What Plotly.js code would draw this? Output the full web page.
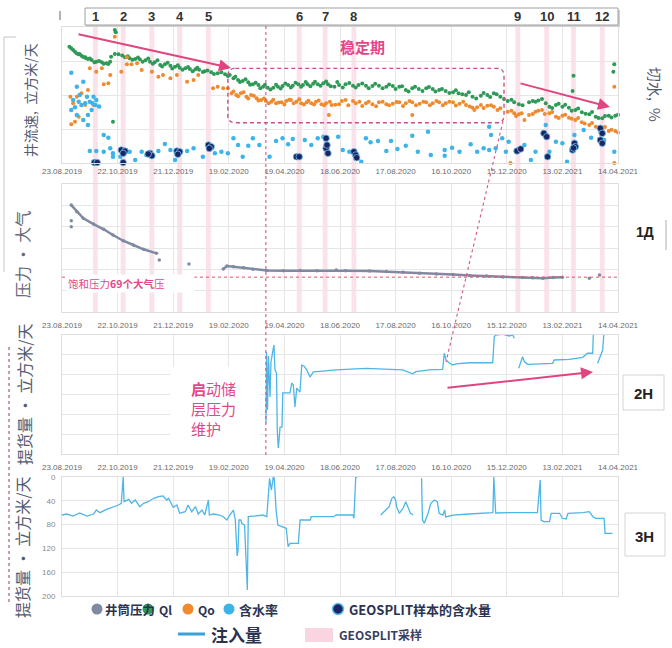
<!DOCTYPE html>
<html><head><meta charset="utf-8">
<script src="https://cdn.plot.ly/plotly-3.0.1.min.js"></script>
<style>html,body{margin:0;padding:0;background:#fff}#chart{width:672px;height:648px}</style>
</head><body><div id="chart"></div>
<script>
// ---------- DATA ----------
const tickDays = [0,60,120,180,240,300,360,420,480,540,600];
const tickLabels = ['23.08.2019','22.10.2019','21.12.2019','19.02.2020','19.04.2020','18.06.2020','17.08.2020','16.10.2020','15.12.2020','13.02.2021','14.04.2021'];
const sampleDays = [36,66,97,127,158,256,284,315,492,523,552,583];
const sampleNums = ['1','2','3','4','5','6','7','8','9','10','11','12'];
const startDay = 220;
const satPressure = 69;

// panel 1: Ql (green), Qo (orange), water cut (light blue), GEOSPLIT water cut (navy)  [day, value]
const qlPts = [
[8,85.5],[10,84.3],[12,83],[14,81.8],[16,80.5],[18,79.9],[19,80.2],[21,78.9],[23,78],[25,77.7],[26,77],[28,76.5],[30,76.8],[32,75.7],[35,74],[37,74.5],[40,75],[43,74.0],[45,73],[48,73.3],[50,72.8],[52,74.5],[53,78.2],[57,80.1],[61,79.9],
[57,97.8],[58,96.1],[55,30.4],
[65,79],[68,77.7],[71,78.5],[73,77.0],[76,76],[79,76.5],[82,77.5],[84,76.3],[87,74.5],[90,75.5],[93,76.8],[95,74.5],[98,73],[100,74.0],[103,75.5],[106,72.1],[108,71],[111,72.6],[114,73.8],[117,71.5],[119,69.5],[122,70.8],[125,71.8],[127,70.1],[130,68.5],[133,69.6],[136,70.5],[138,69.1],[141,67.5],[144,68.9],[146,70],[148,68.6],[152,67],[154,67.5],[157,68],[161,66.7],[164,65.5],[168,66.0],[172,66.8],[176,65.2],[179,64],[181,64.7],
[185,62.3],[187,63.5],[190,61.0],[192,59.5],[195,60.3],[198,61.5],[201,59.3],[203,57.5],[206,57.9],[209,59],[212,57.4],[214,55],[217,56.1],[219,57.5],[222,55.4],[225,54],[228,55.4],[231,57.5],[233,56.1],[236,54.8],[238,56.6],[241,58.5],[244,57.4],[247,55.5],[249,56.8],[252,59],[255,57.9],[258,56],[260,57.4],[263,59.5],[265,57.9],[268,56.5],[271,58.3],[273,59.8],[276,57.9],[279,56.8],[282,58.6],[285,60],[287,57.9],[290,56.5],[294,56.1],[297,59.5],[299,57.4],[303,55.5],[306,57.9],[310,58.8],[314,56.8],[317,55.5],[320,57.4],[324,58.5],[328,56.8],[331,55],[335,56.6],[338,58.2],[342,56.8],[346,55],[350,56.1],[353,57.8],[357,56.6],[360,54.5],[364,56.1],[367,56.5],[371,53.7],[374,52.5],[378,54.9],[381,56],[385,54.4],[389,53],[393,54.9],[396,55.8],[400,54.4],[403,52.5],[407,53.7],[410,54.5],[414,52.9],[418,51.5],[422,52.0],[425,53.5],[428,51.3],[432,50.5],[436,50.0],[439,52],[443,48.8],[447,47.5],[452,49.5],[455,51.5],[459,50.0],[462,48.5],[466,51.3],[469,50.5],[473,48.8],[477,47],
[481,45.6],[485,46.5],[488,44.6],[493,43.2],[497,42.5],[504,44.6],[508,45.5],[511,45.1],[514,46],[518,47.1],[522,44],[526,41.4],[529,40.5],[533,42.6],[536,43.5],[540,41.4],[543,42.8],[547,40.7],[550,38.5],[554,39.0],[557,40],[561,37.3],[565,36.2],[569,35.8],[572,37.5],[576,34.0],[579,33],[583,32.9],[586,34.5],[590,34.8],[593,33.5],[597,34.8],[600,35.5],
[552,64.2],[551,52.9],[596,72.6],[595,67.1]
];
const qoPts = [
[10,28.5],[9,48.8],[12,43.9],[16,48.8],[18,34.0],[14,30.4],[21,51.3],[25,42.6],[28,53.7],[30,69.6],[34,42.6],[37,67.1],[43,69.6],[45,57.9],[50,58.6],[52,64.7],[57,92.9],[64,67.1],
[70,77.7],[70,72.6],[75,72.6],[81,73.3],[86,68.4],[97,67.1],[104,63.5],[109,64.7],[117,62.3],[124,64.7],[135,59.8],[142,61.0],[147,64.7],
[163,54.9],[168,56.1],[174,54.9],[179,54.9],[183,51.3],[185,52.5],[188,50.0],[190,49],[193,51.3],[196,52],[199,48.8],[201,47.5],[204,50.0],[207,49.5],[210,47.6],[212,46],[215,46.3],[218,47.5],[220,45.6],[223,44],[226,45.1],[228,46.5],[231,43.9],[234,44.5],[237,44.6],[240,43],[242,45.6],[245,46.5],[247,46.3],[250,44],[253,45.1],[256,46.8],[258,43.9],[261,43],[264,44.6],[266,45.8],[269,43.9],[272,43],[274,45.1],[277,46],[280,43.2],[283,42.5],[285,43.9],[289,45],[291,42.6],[288,35.3],[295,42.8],[299,43.2],[302,45.5],[306,46.3],[309,42.5],[314,45.6],[317,44],[321,45.1],[324,42],[328,43.9],[331,45],[335,43.2],[339,41.8],[342,44.6],[346,45],[350,43.2],[353,42.5],[357,43.6],[361,44.8],[364,44.6],[368,42],[371,43.9],[375,45.5],[378,44.6],[382,42.5],[386,43.6],[390,45],[393,44.6],[397,42.5],[400,43.9],[404,45.5],[407,44.6],[411,42.5],[414,43.9],[418,45],[422,44.6],[425,42.2],[429,43.6],[433,45],[436,42.6],[440,41.5],[443,40.7],[445,39.0],[448,41],[452,42.6],[455,40.5],[459,42.1],[463,42.5],[466,41.4],[470,39],[473,40.2],[378,35.3],
[481,37.7],[485,38.5],[488,36.5],[490,34.5],[493,35.8],[496,36.5],[499,31.6],[504,35.3],[508,36],[511,37.7],[514,38.5],[518,39.0],[521,36],[526,36.5],[529,37.5],[533,34.0],[536,33],[540,34.8],[543,35.5],[547,33.3],[550,32.5],[554,31.6],[557,33],[561,29.9],[564,29],[569,27.9],[572,29.5],[576,26.7],[579,26],[583,25.5],[586,26.5],[590,23.5],[593,24.5],[597,23.5],[600,22.5],
[596,56.1],[484,0],[596,0]
];
const wcPts = [
[10,66.4],[23,59.8],[16,56.1],[12,46.3],[18,45.1],[21,42.6],[10,39.0],[16,35.3],[19,50.0],[27,48.8],[30,45.1],[34,48.8],[36,42.6],[37,46.3],[32,39.0],[28,35.3],[23,31.6],[28,27.9],[14,41],[25,44],[33,44],[40,41.5],
[45,20.6],[50,18.6],[30,8.8],[37,8.8],[45,8.3],[52,10.8],[55,7.1],[55,4.6],[63,4.6],[73,8.3],[79,2.2],[86,8.3],[91,5.9],[104,8.8],[111,14.0],[117,9.6],[122,2.2],[135,8.8],[142,10.8],
[152,4.6],[165,7.1],[172,8.3],[179,7.1],[185,18.2],[190,13.2],[195,4.6],[201,12.7],[206,18.2],[213,13.2],[224,4.6],[231,16.2],[238,18.2],[244,13.8],[249,17.6],[262,16.9],[269,13.2],[276,18.2],[282,19.3],
[298,19.3],[303,9.6],[310,8.3],[323,1.0],[328,18.2],[333,15.2],[341,16.2],[350,8.8],[355,16.2],[362,10.3],[371,12.7],[378,20.1],[384,8.3],[395,23.0],[398,5.9],[413,9.6],[413,5.4],[421,11.3],[429,8.3],[441,13.8],
[448,8.3],[455,10.8],[461,26.7],[463,20.6],[461,9.6],[468,10.8],[475,18.2],[479,8.3],[482,15.7],[499,13.2],[506,2.2],[511,8.3],[522,27.9],[526,8.3],[533,15.7],[540,14.5],[545,1.0],[553,20.6],[563,24.3],[571,18.6],[581,23.0],[585,16.9],[596,8.3]
];
const gsPts = [
[35,0.3],[38,0.3],[64,9.6],[68,8.8],[66,7.1],[66,0.3],[95,7.1],[97,5.4],[93,6.6],[124,8.8],[127,8.3],[125,6.4],[158,13.2],[161,12.0],[159,10.7],
[253,4.6],[256,4.6],[285,18.2],[285,10.8],[287,7.1],[286,13.2],[315,8.3],[317,5.9],[318,3.9],
[491,8.8],[495,10.3],[520,21.8],[523,19.3],[524,4.6],[553,14.5],[554,12.0],[551,9.6],[552,11.0],[581,25.5],[583,21.8],[581,16.9],[583,14.5]
];
// panel 2: wellbore pressure, atm  [day, value]; nulls separate pieces
const presPts = [
[10,170.4],[16,161],[23,151.7],[34,143.7],[45,136.3],[55,128.3],[66,120.2],[77,114.2],[88,108.2],[102,102.5],[null,null],
[10,148.4],[null,null],[10,139.9],[null,null],[105,93.1],[null,null],[137,87.5],[null,null],
[174,80.5],[178,84.7],[185,83.7],[196,82.3],[206,80],[221,78.5],[239,78.1],[257,78.3],[275,78.1],[296,79],[306,78.1],[332,77.6],[350,76.8],[368,75.8],[386,74.6],[404,73.4],[422,72.6],[440,71.5],[458,70.5],[476,69.2],[497,68.4],[508,68.2],[519,67.3],[530,68.6],[540,68.8],[null,null],
[569,67.5],[null,null],[580,72]
];
// panel 3: injection 2H  [day, value]
const inj2Pts = [
[220.1,78],[220.7,257],[221.8,111],[222.8,247],[224.5,144],[225.5,232],[227.7,262],[228.7,275],[229.8,212],[231.5,204],[232.3,60.5],[233.4,15],[234.2,35],[235.3,68],[237.4,68],[238.2,154],[242.8,154],[246,154],[247.9,179],[249.6,174],[251.4,118.5],[253.3,166],[256.8,156],[258.7,224],[261.1,222],[264.1,212],[267.6,194],[271.2,207],[281.6,209],[295.7,212],
[328,216],[367.6,212],[378.4,202],[382,207.5],[396.4,212],[410.8,213.5],[412.5,254],[414.4,237],[417.6,230],[421.6,224],[425.2,227],[439.5,230],[454,230],[464.8,230],[466.5,296],[468.3,300],[475.6,302],[482.7,297.5],[486.4,300],[488.1,292],[null,null],
[492.8,216],[494.2,224],[497.1,245],[498.9,233],[502.5,226],[529.5,228.6],[531.2,237],[547.4,238.7],[561.9,243.8],[567.3,254],[572.7,254],[573.3,300],[null,null],
[578,228.6],[579.8,238.7],[583.5,262],[584.5,296],[585.4,312]
];
// panel 4: injection 3H  [day, value]
const inj3Pts = [
[0,63.9],[5,62.2],[12,65.6],[19,60.5],[27,65.6],[34,62.2],[37,55.5],[41,60],[48,54.3],[55,50.9],[61,47.1],[64,44.2],[66,0],[67,41.5],[72,37.5],[75,44.2],[79,38.7],[84,49.9],[88,44.2],[93,41.5],[99,35.8],[104,33.1],[109,31.9],[113,38.7],[115,35.8],[120,50.9],[124,47.1],[127,61],[133,58.3],[136,47.1],[140,58.3],[144,49.9],[147,62.2],[151,55.5],[154,63.9],[158,38.7],[159,63.9],[163,62.2],[170,63.9],[174,66.7],[178,72.3],[181,63.9],[185,55.5],[187,72.3],[189,132.8],[190,122.7],[191,72.3],[193,72.3],[194,77.8],[197,80.7],[200,190],[201,66.7],[206,65.6],[217,63.9],[221,66.7],[223,10.6],[224,2.2],[226,21.9],[228,0],[229,1.7],[231,55.5],[233,80.7],[239,83.5],[242,86.2],[244,117.2],[246,111.5],[255,111.5],[257,72.3],[268,72.3],[269,66.7],[293,66.7],[296,63.9],[314,63.9],[315,69.4],[317,0],[319,0],[null,null],
[344,63.9],[346,61],[350,55.5],[353,49.9],[356,35.8],[358,33.1],[360,38.7],[361,49.9],[364,61],[368,52.6],[371,41.5],[373,49.9],[376,61],[379,63.9],[null,null],
[388,2.2],[389,72.3],[391,77.8],[395,61],[398,44.2],[402,38.7],[405,41.5],[407,61],[411,63.9],[413,55.5],[414,67.2],[422,63.9],[439,62.2],[458,61],[465,60],[466,0],[468,60.5],[483,60],[497,60],[513,60],[516,5],[517,72.3],[520,75.1],[526,75.1],[528,61],[537,61],[540,69.4],[544,70.6],[546,61],[562,60],[569,58.3],[573,66.7],[576,69.4],[583,69.4],[585,69.4],[586,94.6],[594,94.6]
];
const legendNames = ['井筒压力','Ql','Qo','含水率','GEOSPLIT样本的含水量'];
const lineLegendName = '注入量';
const bandLegendName = 'GEOSPLIT采样';
const noteLines = ['<b>启</b>动储','层压力','维护'];

// ---------- STYLE ----------
const C = {green:'#2f9a58', orange:'#ef8a2f', wc:'#3cb4ea', navy:'#1b2566', pres:'#7f8aa2', inj:'#4db6e6', pink:'#e3468a', grid:'#e6e6e6'};
const CJK = 'Noto Sans CJK SC, sans-serif';
const px = x => (x - 62) / 556;
const py = y => 1 - y / 648;
const xs = a => a.map(p => p[0]);
const ys = a => a.map(p => p[1]);

const traces = [
 {x:xs(qlPts), y:ys(qlPts), xaxis:'x', yaxis:'y', mode:'markers', name:'Ql', marker:{size:4, color:C.green}, cliponaxis:false},
 {x:xs(qoPts), y:ys(qoPts), xaxis:'x', yaxis:'y', mode:'markers', name:'Qo', marker:{size:4, color:C.orange}, cliponaxis:false},
 {x:xs(wcPts), y:ys(wcPts), xaxis:'x', yaxis:'y', mode:'markers', name:'含水率', marker:{size:4.5, color:C.wc}, cliponaxis:false},
 {x:xs(gsPts), y:ys(gsPts), xaxis:'x', yaxis:'y', mode:'markers', name:'GEOSPLIT', marker:{size:6.5, color:C.navy, line:{color:'#6fc4ee', width:0.8}}, cliponaxis:false},
 {x:xs(presPts), y:ys(presPts), xaxis:'x2', yaxis:'y2', mode:'lines+markers', name:'井筒压力', line:{color:C.pres, width:2.5}, marker:{size:3.5, color:C.pres}, connectgaps:false},
 {x:xs(inj2Pts), y:ys(inj2Pts), xaxis:'x3', yaxis:'y3', mode:'lines', name:'注入量 2H', line:{color:C.inj, width:1.3}, connectgaps:false},
 {x:xs(inj3Pts), y:ys(inj3Pts), xaxis:'x4', yaxis:'y4', mode:'lines', name:'注入量 3H', line:{color:C.inj, width:1.3}, connectgaps:false}
];

function xax(anchor, labels, tl){
 return {anchor:anchor, range:[0,600], tickvals:tickDays, ticktext:tickLabels, showticklabels:labels,
  showgrid:true, gridcolor:C.grid, zeroline:false, showline:true, linecolor:'#dedede', mirror:true,
  ticks:'outside', ticklen:tl, tickcolor:'rgba(0,0,0,0)', tickangle:0,
  tickfont:{size:8, color:'#6b6b6b', family:'Liberation Sans Narrow, Liberation Sans, Arial'}};
}
function yax(anchor, dom, range, tick0, dtick, labels){
 return {anchor:anchor, domain:dom, range:range, tick0:tick0, dtick:dtick, showticklabels:labels,
  showgrid:true, gridcolor:C.grid, zeroline:false, showline:true, linecolor:'#dedede', mirror:true,
  ticks:labels?'outside':'', ticklen:4, tickcolor:'rgba(0,0,0,0)', tickfont:{size:8, color:'#8a8a8a', family:'Liberation Sans'}};
}

const shapes = [];
sampleDays.forEach(d => shapes.push({type:'rect', xref:'x', yref:'paper', x0:d-2.6, x1:d+2.6, y0:py(312), y1:py(27), fillcolor:'rgba(246,188,206,0.45)', line:{width:0}, layer:'below'}));
// numbered box
shapes.push({type:'rect', xref:'paper', yref:'paper', x0:px(86), x1:px(620), y0:py(27), y1:py(10), fillcolor:'#d0d0d0', line:{width:0}});
shapes.push({type:'rect', xref:'paper', yref:'paper', x0:px(85), x1:px(618), y0:py(25), y1:py(8), fillcolor:'#ffffff', line:{color:'#a0a0a0', width:1}});
shapes.push({type:'line', xref:'paper', yref:'paper', x0:px(60), x1:px(60), y0:py(20), y1:py(11), line:{color:'#999', width:1.5}});
// start of reservoir pressure maintenance
shapes.push({type:'line', xref:'x', yref:'paper', x0:startDay, x1:startDay, y0:py(455), y1:py(25), line:{color:'#d0558a', width:1.1, dash:'3px,3px'}});
// stable period box (rounded)
(function(){
 const x0=179, x1=477, y0=29.6, y1=69.6, rx=8, ry=5.5;
 const p = `M ${x0+rx},${y1} L ${x1-rx},${y1} Q ${x1},${y1} ${x1},${y1-ry} L ${x1},${y0+ry} Q ${x1},${y0} ${x1-rx},${y0} L ${x0+rx},${y0} Q ${x0},${y0} ${x0},${y0+ry} L ${x0},${y1-ry} Q ${x0},${y1} ${x0+rx},${y1} Z`;
 shapes.push({type:'path', xref:'x', yref:'y', path:p, line:{color:'#c8508a', width:1.4, dash:'4px,3px'}});
})();
shapes.push({type:'line', xref:'paper', yref:'paper', x0:px(503), y0:py(121), x1:px(446), y1:py(362), line:{color:'#d0558a', width:1.1, dash:'3px,3px'}});
// saturation pressure
shapes.push({type:'line', xref:'paper', yref:'y2', x0:0, x1:1, y0:satPressure, y1:satPressure, line:{color:'#e2506a', width:1, dash:'dot'}});
// white box for note
shapes.push({type:'rect', xref:'paper', yref:'paper', x0:px(170), x1:px(260), y0:py(454), y1:py(367), fillcolor:'#fff', line:{width:0}, layer:'above'});
// right-side labels frames
shapes.push({type:'line', xref:'paper', yref:'paper', x0:px(666), x1:px(666), y0:py(250), y1:py(220), line:{color:'#c8c8c8', width:1.5}});
shapes.push({type:'rect', xref:'paper', yref:'paper', x0:px(623), x1:px(664), y0:py(410), y1:py(375), fillcolor:'#fff', line:{color:'#d4d4d4', width:1}});
shapes.push({type:'rect', xref:'paper', yref:'paper', x0:px(625), x1:px(665), y0:py(556), y1:py(513), fillcolor:'#fff', line:{color:'#d4d4d4', width:1}});
// left frame and dotted line
shapes.push({type:'line', xref:'paper', yref:'paper', x0:px(4), x1:px(4), y0:py(272), y1:py(37), line:{color:'#c4c4c4', width:1}});
shapes.push({type:'line', xref:'paper', yref:'paper', x0:px(4), x1:px(16), y0:py(37), y1:py(37), line:{color:'#c4c4c4', width:1}});
shapes.push({type:'line', xref:'paper', yref:'paper', x0:px(9), x1:px(9), y0:py(602), y1:py(345), line:{color:'#c07a92', width:1.5, dash:'dot'}});

// legend (manual)
const legColors = [C.pres, C.green, C.orange, C.wc, C.navy];
const legCx = [97, 148, 188, 229, 338];
const legTx = [103, 157, 196, 237, 347];
const legY = 609, rad = 5.5;
legCx.forEach((cx,i) => shapes.push({type:'circle', xref:'paper', yref:'paper', x0:px(cx-rad), x1:px(cx+rad), y0:py(legY+rad), y1:py(legY-rad), fillcolor:legColors[i], line:{color: i===4 ? '#5fc0ee' : legColors[i], width: i===4 ? 1.5 : 0}}));
shapes.push({type:'line', xref:'paper', yref:'paper', x0:px(178), x1:px(205), y0:py(634), y1:py(634), line:{color:'#3aa2d4', width:3}});
shapes.push({type:'rect', xref:'paper', yref:'paper', x0:px(305), x1:px(333), y0:py(642), y1:py(628), fillcolor:'rgba(248,205,220,0.85)', line:{width:0}});

const ann = [];
const A = o => Object.assign({xref:'paper', yref:'paper', showarrow:false, xanchor:'center', yanchor:'middle'}, o);
sampleDays.forEach((d,i) => ann.push(A({xref:'x', x:d, y:py(16.5), text:'<b>'+sampleNums[i]+'</b>', font:{size:13, color:'#333', family:'Liberation Sans Narrow, Liberation Sans, Arial'}})));
const vt = (text, x, y, size, ang, color) => A({x:px(x), y:py(y), text:text, textangle:ang, font:{size:size, color:color||'#555b70', family:CJK}});
ann.push(vt('井流速,  立方米/天', 30, 100, 14, -90));
ann.push(vt('压力 · 大气', 22, 255, 16, -90, '#666a78'));
ann.push(vt('提货量 · 立方米/天', 24, 395, 16, -90, '#555b70'));
ann.push(vt('提货量 · 立方米/天', 22, 548, 16, -90, '#555b70'));
ann.push(vt('切水,  %', 655, 94, 15, 90, '#555b70'));
ann.push(A({x:px(645), y:py(232), text:'<b>1Д</b>', font:{size:14, color:'#222', family:'Liberation Sans'}}));
ann.push(A({x:px(643), y:py(393), text:'<b>2H</b>', font:{size:15, color:'#222', family:'Liberation Sans'}}));
ann.push(A({x:px(644), y:py(536), text:'<b>3H</b>', font:{size:15, color:'#222', family:'Liberation Sans'}}));
ann.push(A({x:px(362), y:py(47), text:'<b>稳定期</b>', font:{size:15, color:C.pink, family:CJK}}));
ann.push(A({x:px(66), y:py(284), xanchor:'left', text:'饱和压力<b>69个大气</b>压', bgcolor:'#fff', width:125, align:'left', font:{size:10.5, color:C.pink, family:CJK}}));
noteLines.forEach((t,i) => ann.push(A({x:px(189), y:py(388 + i*20), xanchor:'left', text:t, align:'left', font:{size:15, color:C.pink, family:CJK}})));
const arrow = (hx,hy,tx,ty) => ({xref:'paper', yref:'paper', x:px(hx), y:py(hy), ax:tx-hx, ay:ty-hy, axref:'pixel', ayref:'pixel', text:'', showarrow:true, arrowhead:2, arrowsize:1.2, arrowwidth:2, arrowcolor:'#e0457f'});
ann.push(arrow(231,68,77,34));
ann.push(arrow(610,107,519,83));
ann.push(arrow(593,372,446,388));
legendNames.forEach((n,i) => ann.push(A({x:px(legTx[i]), y:py(legY), xanchor:'left', text:'<b>'+n+'</b>', font:{size: i===0 ? 12.5 : (i===1||i===2 ? 12 : 13), color:'#2c3350', family:CJK}})));
ann.push(A({x:px(209), y:py(634), xanchor:'left', text:'<b>'+lineLegendName+'</b>', font:{size:17, color:'#2c3350', family:CJK}}));
ann.push(A({x:px(337), y:py(634), xanchor:'left', text:'<b>'+bandLegendName+'</b>', font:{size:12, color:'#3a4060', family:CJK}}));

const layout = {
 width:672, height:648, margin:{l:62, r:54, t:0, b:0},
 paper_bgcolor:'#fff', plot_bgcolor:'rgba(0,0,0,0)', showlegend:false,
 font:{family:CJK},
 xaxis: xax('y', true, 0),
 xaxis2: xax('y2', true, 5),
 xaxis3: xax('y3', true, 5),
 xaxis4: xax('y4', false, 0),
 yaxis: yax('x', [py(163), py(27)], [0,100], 0, 25, false),
 yaxis2: yax('x2', [py(312), py(184)], [20,200], 20, 30, false),
 yaxis3: yax('x3', [py(454), py(335)], [0,300], 0, 50, false),
 yaxis4: Object.assign(yax('x4', [py(596), py(477)], [200,0], 0, 40, true), {tickvals:[0,40,80,120,160,200]}),
 shapes: shapes, annotations: ann
};
Plotly.newPlot('chart', traces, layout, {staticPlot:true, displayModeBar:false});
</script></body></html>
